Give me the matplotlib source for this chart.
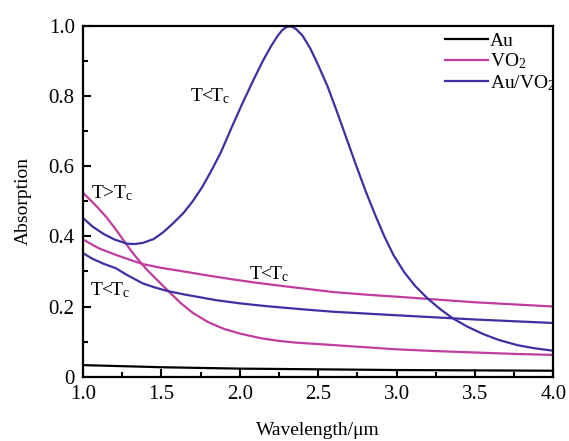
import numpy as np
import matplotlib
matplotlib.use("Agg")
import matplotlib.pyplot as plt
from matplotlib.ticker import MultipleLocator, FixedFormatter, FixedLocator

plt.rcParams['font.family'] = ['Liberation Serif', 'DejaVu Serif']
plt.rcParams['mathtext.fontset'] = 'custom'
plt.rcParams['mathtext.rm'] = 'Liberation Serif'
plt.rcParams['mathtext.it'] = 'Liberation Serif'

# --- data ---
# Au (black)
au_x = [1.0, 1.25, 1.5, 1.75, 2.0, 2.5, 3.0, 3.5, 4.0]
au_y = [0.033, 0.030, 0.027, 0.025, 0.023, 0.021, 0.019, 0.018, 0.017]

# VO2, T>Tc (steep magenta)
vo2_hot_x = [1.0, 1.05, 1.1, 1.15, 1.2, 1.255, 1.3, 1.34, 1.38, 1.42, 1.47,
             1.54, 1.62, 1.70, 1.8, 1.9, 2.0, 2.13, 2.25, 2.36, 2.5, 2.6, 2.8,
             3.0, 3.25, 3.5, 3.75, 4.0]
vo2_hot_y = [0.524, 0.502, 0.479, 0.454, 0.425, 0.391, 0.363, 0.340, 0.319,
             0.299, 0.277, 0.246, 0.211, 0.182, 0.155, 0.136, 0.123, 0.110,
             0.102, 0.097, 0.093, 0.090, 0.084, 0.078, 0.073, 0.069, 0.065,
             0.062]

# VO2, T<Tc (flat magenta)
vo2_cold_x = [1.0, 1.1, 1.21, 1.3, 1.38, 1.5, 1.64, 1.8, 1.96, 2.1, 2.28, 2.45,
              2.6, 2.8, 3.0, 3.25, 3.5, 3.75, 4.0]
vo2_cold_y = [0.391, 0.366, 0.347, 0.333, 0.321, 0.310, 0.300, 0.288, 0.277,
              0.268, 0.258, 0.249, 0.241, 0.234, 0.228, 0.220, 0.212, 0.206,
              0.200]

# Au/VO2 with the resonance peak
auvo2_peak_x = [1.0, 1.06, 1.13, 1.2, 1.28, 1.33, 1.38, 1.45, 1.51, 1.57, 1.64,
                1.7, 1.76, 1.82, 1.88, 1.95, 2.02, 2.09, 2.15, 2.2, 2.24, 2.27,
                2.3, 2.33, 2.36, 2.4, 2.45, 2.5, 2.56, 2.62, 2.68, 2.74, 2.8,
                2.86, 2.92, 2.98, 3.05, 3.12, 3.2, 3.28, 3.36, 3.45, 3.55, 3.65,
                3.77, 3.88, 4.0]
auvo2_peak_y = [0.452, 0.428, 0.407, 0.391, 0.379, 0.378, 0.381, 0.392, 0.411,
                0.435, 0.466, 0.500, 0.540, 0.588, 0.640, 0.712, 0.782, 0.848,
                0.902, 0.942, 0.970, 0.987, 0.997, 0.998, 0.990, 0.972, 0.935,
                0.888, 0.827, 0.755, 0.680, 0.605, 0.532, 0.465, 0.402, 0.347,
                0.297, 0.258, 0.222, 0.192, 0.166, 0.143, 0.122, 0.105, 0.090,
                0.081, 0.074]

# Au/VO2, lower curve
auvo2_low_x = [1.0, 1.06, 1.13, 1.21, 1.28, 1.38, 1.46, 1.54, 1.65, 1.85, 2.0,
               2.17, 2.4, 2.6, 2.8, 3.0, 3.25, 3.5, 3.75, 4.0]
auvo2_low_y = [0.352, 0.336, 0.322, 0.309, 0.290, 0.266, 0.254, 0.244, 0.234,
               0.218, 0.209, 0.201, 0.192, 0.185, 0.180, 0.175, 0.169, 0.163,
               0.158, 0.153]

x_ticks = [1.0, 1.5, 2.0, 2.5, 3.0, 3.5, 4.0]
x_tick_labels = ["1.0", "1.5", "2.0", "2.5", "3.0", "3.5", "4.0"]
y_ticks = [0.0, 0.2, 0.4, 0.6, 0.8, 1.0]
y_tick_labels = ["0", "0.2", "0.4", "0.6", "0.8", "1.0"]

magenta = '#C03C9E'
blue = '#3F30A2'

fig = plt.figure(figsize=(5.69, 4.41), dpi=100)
ax = fig.add_axes([0.1459, 0.1458, 0.8265, 0.7959])

ax.plot(au_x, au_y, color='black', lw=1.6, label='Au')
ax.plot(vo2_hot_x, vo2_hot_y, color=magenta, lw=1.6, label='VO$_2$')
ax.plot(vo2_cold_x, vo2_cold_y, color=magenta, lw=1.6)
ax.plot(auvo2_peak_x, auvo2_peak_y, color=blue, lw=1.6, label='Au/VO$_2$')
ax.plot(auvo2_low_x, auvo2_low_y, color=blue, lw=1.6)

ax.set_xlim(1.0, 4.0)
ax.set_ylim(0, 1.0)
ax.xaxis.set_major_locator(FixedLocator(x_ticks))
ax.xaxis.set_major_formatter(FixedFormatter(x_tick_labels))
ax.xaxis.set_minor_locator(MultipleLocator(0.25))
ax.yaxis.set_major_locator(FixedLocator(y_ticks))
ax.yaxis.set_major_formatter(FixedFormatter(y_tick_labels))
ax.yaxis.set_minor_locator(MultipleLocator(0.1))
ax.tick_params(which='both', direction='in', top=False, right=False,
               width=1.5, labelsize=15)
ax.tick_params(which='major', length=6, pad=6)
ax.tick_params(which='minor', length=3.5)
for s in ax.spines.values():
    s.set_linewidth(1.6)

ax.set_xlabel('Wavelength/μm', fontsize=14, labelpad=13)
ax.set_ylabel('Absorption', fontsize=14, labelpad=12)

ax.text(1.68, 0.80, 'T<T$_\\mathregular{c}$', fontsize=14, va='center')
ax.text(1.05, 0.524, 'T>T$_\\mathregular{c}$', fontsize=14, va='center')
ax.text(2.06, 0.292, 'T<T$_\\mathregular{c}$', fontsize=14, va='center')
ax.text(1.045, 0.246, 'T<T$_\\mathregular{c}$', fontsize=14, va='center')

ax.legend(loc='upper right', frameon=False, fontsize=14, handlelength=2.2,
          handletextpad=0.1, labelspacing=0.1, borderaxespad=0.1,
          bbox_to_anchor=(1.025, 1.01))

fig.savefig('out.png', dpi=100)
